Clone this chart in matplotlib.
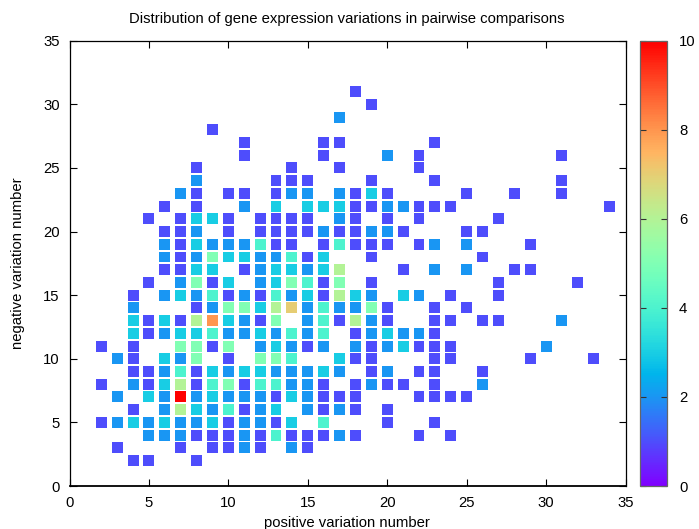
import matplotlib

matplotlib.use("Agg")
import matplotlib.pyplot as plt
from matplotlib.cm import ScalarMappable
from matplotlib.colors import Normalize

y_rows = [31, 30, 29, 28, 27, 26, 25, 24, 23, 22, 21, 20, 19, 18, 17, 16, 15, 14, 13, 12, 11, 10, 9, 8, 7, 6, 5, 4, 3, 2]
x_by_row = [
    [18],
    [19],
    [17],
    [9],
    [11, 16, 17, 23],
    [11, 16, 20, 22, 31],
    [8, 14, 17, 22],
    [8, 13, 14, 15, 19, 23, 31],
    [7, 8, 10, 11, 13, 14, 15, 17, 18, 19, 20, 25, 28, 31],
    [6, 8, 11, 13, 15, 16, 17, 18, 19, 20, 21, 22, 23, 24, 34],
    [5, 7, 8, 9, 10, 12, 13, 14, 15, 17, 18, 20, 22, 27],
    [6, 7, 8, 10, 12, 13, 14, 15, 16, 17, 18, 19, 20, 21, 25, 26],
    [6, 7, 8, 9, 10, 11, 12, 13, 14, 16, 17, 18, 19, 20, 22, 23, 25, 29],
    [6, 7, 8, 9, 10, 11, 12, 13, 14, 15, 16, 19, 26],
    [6, 7, 8, 9, 11, 12, 13, 14, 15, 16, 17, 21, 23, 25, 28, 29],
    [5, 7, 8, 9, 10, 12, 13, 14, 15, 16, 17, 19, 27, 32],
    [4, 6, 7, 8, 9, 10, 11, 12, 13, 14, 15, 16, 17, 18, 19, 21, 22, 24, 27],
    [4, 8, 9, 10, 11, 12, 13, 14, 15, 16, 17, 18, 19, 20, 23, 25],
    [4, 5, 6, 7, 8, 9, 10, 11, 12, 13, 15, 16, 17, 18, 19, 20, 23, 24, 26, 27, 31],
    [4, 5, 6, 7, 8, 9, 10, 11, 12, 13, 14, 15, 16, 18, 19, 20, 21, 22, 23],
    [2, 4, 7, 8, 9, 10, 12, 13, 14, 15, 16, 18, 19, 20, 21, 22, 23, 24, 30],
    [3, 4, 6, 7, 8, 10, 12, 13, 14, 17, 18, 19, 23, 24, 29, 33],
    [4, 5, 6, 7, 8, 9, 10, 11, 12, 13, 14, 15, 16, 17, 19, 20, 22, 23, 26],
    [2, 4, 5, 6, 7, 8, 9, 10, 11, 12, 13, 14, 15, 16, 18, 19, 20, 21, 23, 26],
    [3, 5, 6, 7, 8, 9, 10, 11, 12, 13, 14, 15, 16, 17, 18, 22, 23, 24, 25],
    [4, 6, 7, 8, 9, 10, 11, 12, 13, 15, 16, 17, 18, 20],
    [2, 3, 4, 5, 6, 7, 8, 9, 10, 11, 12, 13, 14, 16, 20, 23],
    [5, 6, 7, 8, 9, 10, 11, 12, 13, 14, 15, 16, 17, 18, 22, 24],
    [3, 7, 9, 10, 11, 12, 14, 15],
    [4, 5, 8],
]
count_by_row = [
    [1],
    [1],
    [2],
    [1],
    [1, 1, 1, 1],
    [1, 1, 2, 1, 1],
    [1, 1, 1, 1],
    [2, 1, 1, 1, 1, 1, 1],
    [2, 1, 1, 1, 1, 2, 2, 2, 1, 3, 1, 1, 1, 1],
    [1, 1, 2, 3, 3, 3, 3, 1, 1, 2, 2, 1, 1, 1, 1],
    [1, 1, 3, 3, 1, 1, 1, 1, 1, 2, 1, 1, 1, 1],
    [1, 1, 2, 1, 1, 1, 1, 1, 2, 1, 1, 2, 2, 1, 1, 1],
    [2, 1, 3, 2, 2, 2, 4, 1, 1, 1, 4, 1, 1, 1, 1, 2, 2, 1],
    [2, 1, 2, 5, 3, 3, 2, 2, 4, 1, 3, 1, 1],
    [1, 1, 3, 3, 1, 2, 3, 3, 2, 3, 6, 1, 2, 2, 1, 1],
    [1, 2, 5, 1, 3, 2, 3, 5, 4, 1, 5, 1, 1, 1],
    [1, 2, 3, 2, 4, 1, 2, 1, 4, 2, 3, 1, 6, 3, 2, 3, 2, 1, 1],
    [2, 1, 2, 5, 5, 3, 6, 7, 2, 4, 2, 2, 5, 1, 1, 1],
    [3, 1, 3, 1, 6, 8, 3, 2, 1, 5, 2, 4, 1, 6, 2, 1, 1, 1, 1, 1, 2],
    [3, 1, 2, 3, 3, 4, 2, 2, 3, 2, 4, 2, 4, 1, 2, 3, 2, 2, 1],
    [1, 1, 5, 5, 1, 5, 2, 3, 2, 1, 2, 2, 1, 2, 3, 1, 1, 1, 2],
    [2, 1, 3, 2, 5, 1, 5, 5, 4, 3, 1, 1, 1, 1, 1, 1],
    [1, 1, 2, 4, 1, 3, 2, 3, 3, 2, 2, 2, 3, 2, 1, 2, 1, 1, 1],
    [1, 2, 1, 3, 6, 1, 4, 5, 1, 4, 4, 2, 2, 1, 1, 2, 1, 1, 1, 2],
    [2, 3, 2, 10, 2, 3, 2, 2, 2, 1, 3, 2, 1, 1, 1, 1, 1, 1, 1],
    [1, 2, 6, 3, 2, 4, 1, 2, 3, 2, 1, 2, 1, 1],
    [1, 2, 3, 2, 3, 2, 2, 3, 1, 2, 2, 1, 3, 4, 1, 1],
    [2, 2, 2, 1, 1, 1, 2, 1, 4, 1, 1, 1, 2, 1, 1, 1],
    [1, 1, 1, 1, 2, 1, 2, 1],
    [1, 1, 1],
]
x_ticks = [0, 5, 10, 15, 20, 25, 30, 35]
y_ticks = [0, 5, 10, 15, 20, 25, 30, 35]
bar_ticks = [0, 2, 4, 6, 8, 10]

W, H = 699, 529
plt.rcParams["font.family"] = ["Liberation Sans", "DejaVu Sans"]


def fig_rect(left, top, right, bottom):
    return [left / W, 1 - bottom / H, (right - left) / W, (bottom - top) / H]


xs, ys, counts = [], [], []
for row, row_x, row_n in zip(y_rows, x_by_row, count_by_row):
    xs.extend(row_x)
    ys.extend([row] * len(row_x))
    counts.extend(row_n)

fig = plt.figure(figsize=(W / 100, H / 100), dpi=100)
ax = fig.add_axes(fig_rect(69.5, 40.7, 625.5, 486))
norm = Normalize(0, 10)
ax.scatter(xs, ys, c=counts, cmap="rainbow", norm=norm, marker="s", s=62, linewidths=0)
ax.set_xlim(0, 35)
ax.set_ylim(0, 35)
ax.set_xticks(x_ticks)
ax.set_yticks(y_ticks)
ax.tick_params(direction="in", top=True, right=True, length=4.7, width=0.8, labelsize=10.7)
ax.tick_params(axis="x", pad=7)
ax.tick_params(axis="y", pad=7)
for spine in ax.spines.values():
    spine.set_linewidth(0.9)
ax.spines["bottom"].set_linewidth(1.3)

cax = fig.add_axes(fig_rect(639.5, 40.7, 666.5, 486))
cbar = fig.colorbar(ScalarMappable(norm=norm, cmap="rainbow"), cax=cax)
cbar.set_ticks(bar_ticks)
cax.tick_params(direction="in", left=True, right=True, length=4, width=0.8, labelsize=10.7, pad=9, color="#333333")
cbar.outline.set_edgecolor("#666666")
cbar.outline.set_linewidth(0.9)

fig.text(347 / W, 1 - 18.5 / H, "Distribution of gene expression variations in pairwise comparisons",
         ha="center", va="center", fontsize=10.7)
fig.text(347 / W, 1 - 523 / H, "positive variation number", ha="center", va="center", fontsize=10.7)
fig.text(18 / W, 1 - 263 / H, "negative variation number", ha="center", va="center", rotation=90, fontsize=10.7)

fig.savefig("out.png", dpi=100)
plt.close(fig)
